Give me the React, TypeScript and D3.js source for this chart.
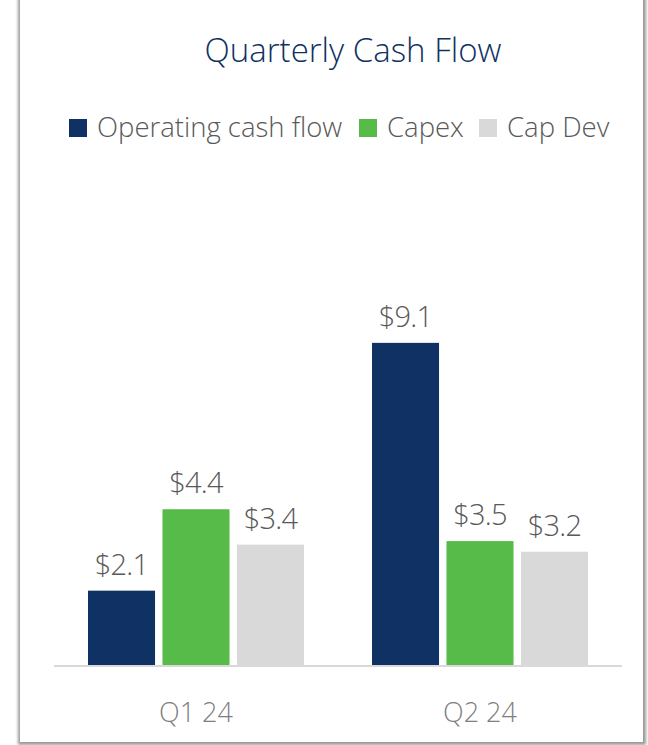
import React from "react";
import * as d3 from "d3";

const categories = ["Q1 24", "Q2 24"];
const seriesNames = ["Operating cash flow", "Capex", "Cap Dev"];
const operatingCashFlow = [2.1, 9.1];
const capex = [4.4, 3.5];
const capDev = [3.4, 3.2];
const seriesColors = ["#0f3164", "#57bb4a", "#d9d9d9"];
const title = "Quarterly Cash Flow";

const W = 648;
const H = 745;
const FONT = "'Open Sans', 'Noto Sans', sans-serif";

export default function App() {
  const series = [operatingCashFlow, capex, capDev];
  const plotLeft = 54;
  const plotRight = 622;
  const baseY = 665;
  const x0 = d3.scaleBand<string>().domain(categories).range([plotLeft, plotRight]).paddingInner(0).paddingOuter(0);
  const groupW = 216;
  const x1 = d3.scaleBand<string>().domain(seriesNames).range([0, groupW]).paddingInner(0.1).paddingOuter(0);
  const y = d3.scaleLinear().domain([0, 10]).range([baseY, baseY - 354]);

  const legendItems = [
    { sx: 69, tx: 97 },
    { sx: 359, tx: 387 },
    { sx: 479, tx: 507 },
  ];

  return (
    <svg width={W} height={H} style={{ position: "absolute", left: 0, top: 0 }} fontFamily={FONT}>
      <defs>
        <filter id="sh" x="-5%" y="-5%" width="110%" height="110%">
          <feGaussianBlur stdDeviation="1.5" />
        </filter>
      </defs>
      <rect x={18} y={-10} width={628} height={755} fill="#9a9a9a" filter="url(#sh)" />
      <rect x={20} y={-10} width={623} height={752} fill="#ffffff" />
      <text x={353} y={62} textAnchor="middle" fontSize={33} fill="#0f3164" fontWeight={300}>
        {title}
      </text>
      {seriesNames.map((name, i) => (
        <g key={name}>
          <rect x={legendItems[i].sx} y={119} width={18} height={18} fill={seriesColors[i]} />
          <text x={legendItems[i].tx} y={137} fontSize={27.5} fill="#595959" fontWeight={300}>
            {name}
          </text>
        </g>
      ))}
      {categories.map((c, ci) => {
        const gx = (x0(c) as number) + (x0.bandwidth() - groupW) / 2;
        return (
          <g key={c}>
            {seriesNames.map((s, si) => {
              const v = series[si][ci];
              const bx = gx + (x1(s) as number);
              const bw = x1.bandwidth();
              return (
                <g key={s}>
                  <rect x={bx} y={y(v)} width={bw} height={baseY - y(v)} fill={seriesColors[si]} />
                  <text x={bx + bw / 2} y={y(v) - 16} textAnchor="middle" fontSize={29} letterSpacing={-0.8} fill="#595959" fontWeight={300}>
                    {`$${v.toFixed(1)}`}
                  </text>
                </g>
              );
            })}
            <text x={(x0(c) as number) + x0.bandwidth() / 2} y={722} textAnchor="middle" fontSize={27} fill="#7f7f7f" fontWeight={300}>
              {c}
            </text>
          </g>
        );
      })}
      <line x1={plotLeft} x2={plotRight} y1={baseY + 1} y2={baseY + 1} stroke="#d9d9d9" strokeWidth={2} />
    </svg>
  );
}
